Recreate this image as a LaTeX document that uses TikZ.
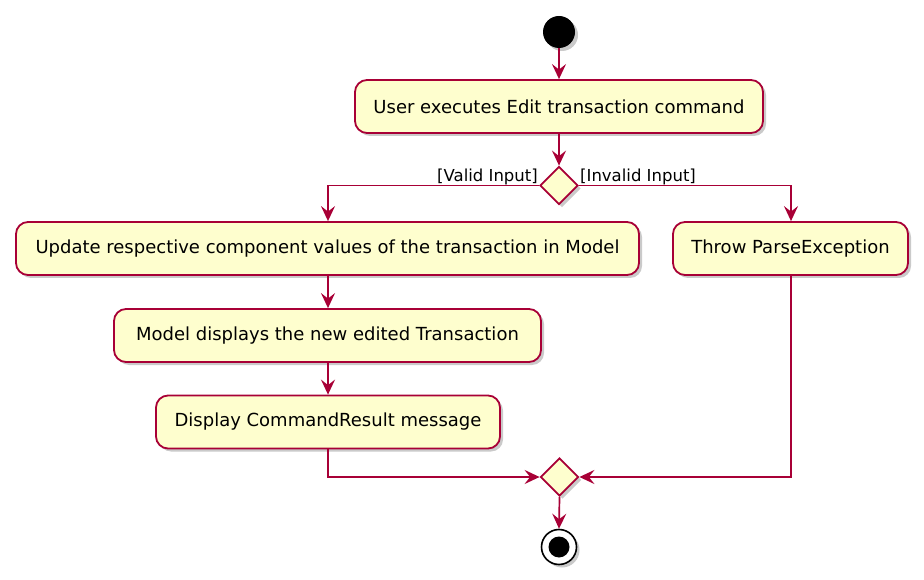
\documentclass[tikz,border=0pt]{standalone}
\usepackage{fontspec}
\setmainfont{DejaVu Sans}
\usetikzlibrary{shapes.geometric,arrows.meta,shadows}
\definecolor{pumlred}{HTML}{A80036}
\definecolor{pumlfill}{HTML}{FEFECE}
\tikzset{
  sh/.style={drop shadow={shadow xshift=3pt,shadow yshift=-3pt,opacity=0.35,fill=black!60}},
  act/.style={draw=pumlred,line width=1.8pt,fill=pumlfill,rounded corners=12pt,
    minimum height=53pt,inner sep=0pt,font=\fontsize{18}{20}\selectfont,sh},
  dec/.style={draw=pumlred,line width=1.8pt,fill=pumlfill,diamond,minimum width=38pt,
    minimum height=38pt,inner sep=0pt,sh},
  flow/.style={draw=pumlred,line width=1.7pt,-{Stealth[length=15pt,width=14pt,inset=5.5pt]}},
  plain/.style={draw=pumlred,line width=1.7pt},
  lbl/.style={font=\fontsize{16.5}{18}\selectfont,inner sep=0pt}
}
\begin{document}
\begin{tikzpicture}[x=1pt,y=-1pt]
\useasboundingbox (0,0) rectangle (924,580);
\node[circle,fill=black,minimum size=32pt,inner sep=0pt,sh] (start) at (559,32) {};
\node[act,minimum width=408pt] (b1) at (559,106.5) {User executes Edit transaction command};
\node[dec] (d1) at (559,185.5) {};
\node[act,minimum width=623pt] (b2) at (327.5,248.5) {Update respective component values of the transaction in Model};
\node[act,minimum width=235pt] (b3) at (790.5,248.5) {Throw ParseException};
\node[act,minimum width=427pt] (b4) at (327.5,335.5) {Model displays the new edited Transaction};
\node[act,minimum width=344pt] (b5) at (328,422) {Display CommandResult message};
\node[dec] (d2) at (559.5,477) {};
\node[circle,draw=black,line width=1.6pt,fill=white,minimum size=35pt,inner sep=0pt,sh] (end) at (559,547) {};
\node[circle,fill=black,minimum size=21pt,inner sep=0pt] (endin) at (end) {};
\node[lbl,anchor=base east] (lv) at (538,182) {[Valid Input]};
\node[lbl,anchor=base west] (li) at (580,182) {[Invalid Input]};
\coordinate (lx) at (328,0);
\coordinate (rx) at (791,0);
\draw[flow] (start) -- (b1);
\draw[flow] (b1) -- (d1.north);
\draw[flow] (d1.west) -| (b2.north -| lx);
\draw[flow] (d1.east) -| (b3.north -| rx);
\draw[flow] (b2.south -| lx) -- (b4.north -| lx);
\draw[flow] (b4.south -| lx) -- (b5.north -| lx);
\draw[flow] (b5.south -| lx) |- (d2.west);
\draw[flow] (b3.south -| rx) |- (d2.east);
\draw[flow] (d2.south) -- (end.north);
\end{tikzpicture}
\end{document}
